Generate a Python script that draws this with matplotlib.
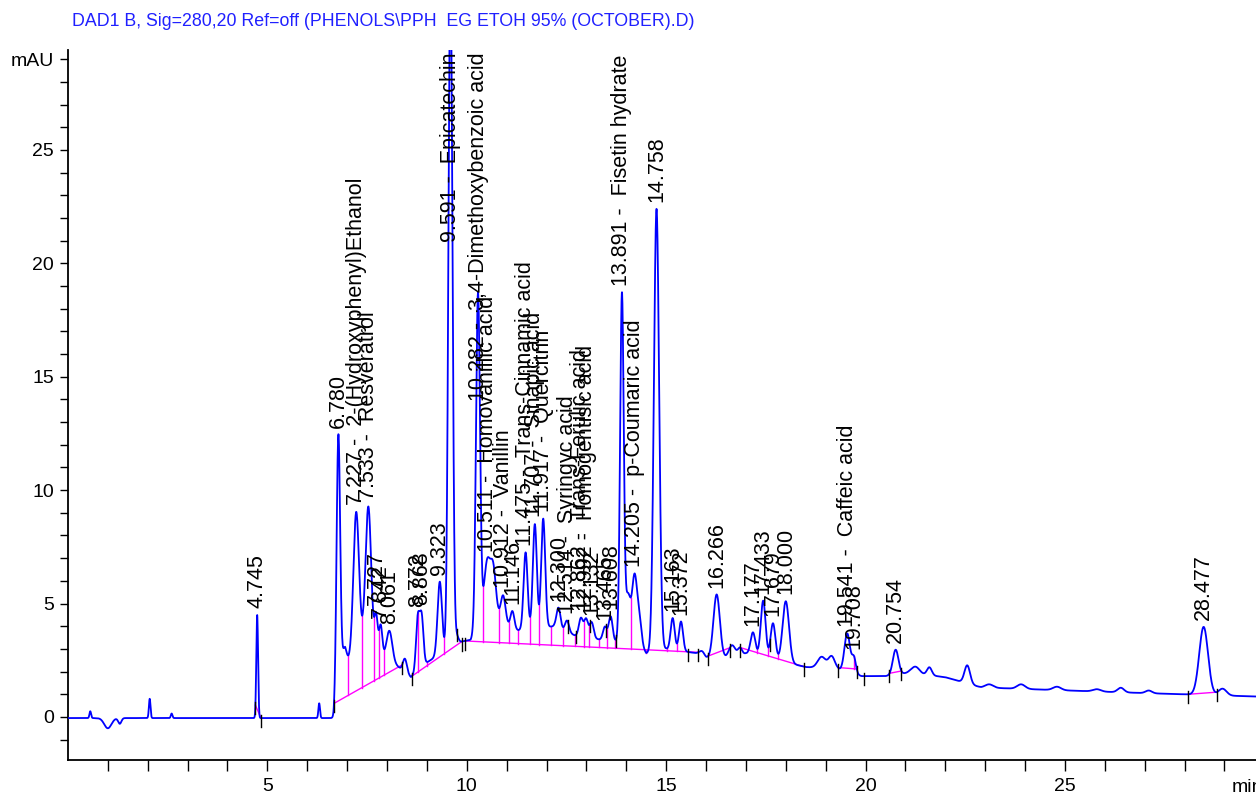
import numpy as np
import matplotlib
matplotlib.use('Agg')
import matplotlib.pyplot as plt

plt.rcParams['font.family'] = ['Liberation Sans', 'DejaVu Sans']

title = 'DAD1 B, Sig=280,20 Ref=off (PHENOLS\\PPH  EG ETOH 95% (OCTOBER).D)'

# underlying floor of the trace (min, mAU)
floor_x = [0.0, 6.66, 6.72, 6.95, 7.4, 7.7, 8.15, 8.6, 9.0, 9.8, 10.1, 10.45, 10.8, 11.2, 12.2, 12.7,
           13.7, 14.1, 14.5, 15.0, 15.8, 16.0, 16.5, 17.0, 18.5, 19.3, 19.9, 20.5, 21.1,
           22.0, 22.9, 24.5, 27.0, 29.8]
floor_y = [-0.05, -0.05, 0.3, 2.2, 3.4, 2.9, 2.4, 1.75, 2.4, 3.3, 3.4, 4.6, 4.3, 3.8, 4.0, 3.6,
           3.3, 3.6, 2.8, 3.0, 2.8, 2.6, 2.6, 2.8, 2.2, 2.1, 1.8, 1.8, 1.95,
           1.75, 1.3, 1.2, 1.05, 0.9]

# labelled peaks: retention time, height above floor, width (sigma)
peak_rt = [4.745, 6.780, 7.227, 7.533, 7.727, 7.842, 8.061, 8.772, 8.868, 9.323, 9.591,
           10.282, 10.511, 10.912, 11.146, 11.475, 11.707, 11.917, 12.300, 12.514,
           12.862, 12.992, 13.132, 13.465, 13.608, 13.891, 14.205, 14.758, 15.163,
           15.372, 16.266, 17.177, 17.433, 17.679, 18.000, 19.541, 19.708, 20.754, 28.477]
peak_h = [4.55, 11.6, 6.1, 6.1, 1.6, 1.3, 1.3, 2.3, 2.2, 3.2, 30.0,
          14.7, 2.2, 1.2, 0.8, 3.4, 4.6, 4.8, 0.9, 0.5,
          0.8, 0.8, 0.7, 0.6, 1.1, 15.2, 2.7, 19.5, 1.4,
          1.3, 2.8, 1.0, 2.5, 1.6, 2.7, 1.7, 0.7, 1.1, 3.0]
peak_w = [0.022, 0.045, 0.07, 0.07, 0.04, 0.04, 0.07, 0.045, 0.045, 0.055, 0.05,
          0.05, 0.07, 0.06, 0.05, 0.05, 0.05, 0.05, 0.05, 0.05,
          0.05, 0.05, 0.05, 0.05, 0.05, 0.045, 0.06, 0.065, 0.05,
          0.05, 0.08, 0.06, 0.06, 0.06, 0.08, 0.07, 0.05, 0.07, 0.11]
peak_name = ['', '', '2-(Hydroxyphenyl)Ethanol', 'Resveratrol', '', '', '', '', '', '', 'Epicatechin',
             '3,4-Dimethoxybenzoic acid', 'Homovanillic acid', 'Vanillin', '', 'Trans-Cinnamic acid',
             'Sinapic acid', 'Quercitrin', '', 'Syringyc acid',
             'Trans-Ferulic acid', 'Homogentisic acid', '', '', '', 'Fisetin hydrate', 'p-Coumaric acid', '', '',
             '', '', '', '', '', '', 'Caffeic acid', '', '', '']

# small unlabelled features
bump_rt = [0.56, 1.0, 1.3, 2.05, 2.6, 6.30, 6.92, 8.45, 9.75, 10.66, 14.04, 14.32, 15.9, 16.65,
           16.85, 18.9, 19.15, 21.25, 21.6, 22.55, 23.1, 23.9, 24.8, 25.8, 26.4, 27.1, 28.95]
bump_h = [0.3, -0.45, -0.25, 0.85, 0.2, 0.65, 1.0, 0.6, 0.3, 2.2, 1.8, 1.2, 0.2, 0.5,
          0.3, 0.5, 0.55, 0.3, 0.35, 0.8, 0.15, 0.2, 0.15, 0.1, 0.2, 0.12, 0.3]
bump_w = [0.02, 0.09, 0.04, 0.02, 0.02, 0.02, 0.06, 0.05, 0.04, 0.07, 0.06, 0.06, 0.06, 0.08,
          0.05, 0.1, 0.08, 0.1, 0.06, 0.07, 0.1, 0.1, 0.1, 0.1, 0.08, 0.08, 0.1]

# integration baselines (start, end)
seg_start = [4.70, 6.67, 8.62, 9.95, 16.05, 16.85, 19.31, 20.60, 28.08]
seg_end = [4.84, 8.38, 9.88, 15.80, 16.60, 18.45, 19.78, 20.90, 28.80]

# extra black tick marks on the trace
mark_x = [9.75, 12.55, 12.75, 13.1, 13.5, 13.75, 15.55, 17.6, 19.95]

t = np.linspace(0, 29.8, 8000)
sig = np.interp(t, floor_x, floor_y)
for rt, h, w in zip(peak_rt + bump_rt, peak_h + bump_h, peak_w + bump_w):
    sig += h * np.exp(-0.5 * ((t - rt) / w) ** 2)


def val(x):
    return np.interp(x, t, sig)


fig = plt.figure(figsize=(12.56, 7.95), dpi=100)
ax = fig.add_axes([0.0541, 0.044, 0.9459, 0.893])
ax.set_xlim(0, 29.79)
ax.set_ylim(-1.9, 29.4)

ax.plot(t, sig, color='#0000ff', lw=1.3, zorder=3)

# integration baselines and drop lines
for s, e in zip(seg_start, seg_end):
    ax.plot([s, e], [val(s), val(e)], color='#ff00ff', lw=1.0, zorder=2)
    inside = [rt for rt in peak_rt if s < rt < e]
    for a, b in zip(inside[:-1], inside[1:]):
        m = (t > a) & (t < b)
        xv = t[m][np.argmin(sig[m])]
        yb = val(s) + (val(e) - val(s)) * (xv - s) / (e - s)
        ax.plot([xv, xv], [yb, val(xv)], color='#ff00ff', lw=1.0, zorder=2)
    for x in (s, e):
        ax.plot([x, x], [val(x) + 0.15, val(x) - 0.4], color='black', lw=1.0, zorder=4)
for x in mark_x:
    ax.plot([x, x], [val(x) + 0.15, val(x) - 0.4], color='black', lw=1.0, zorder=4)

# peak labels
texts = []
for rt, name in zip(peak_rt, peak_name):
    lab = '%.3f' % rt
    if name:
        lab += ' -  ' + name
    y = min(val(rt), 29.0) + 0.3
    texts.append(ax.text(rt, y, lab, rotation=90, ha='center', va='bottom',
                         fontsize=15.5, color='black', zorder=5))

ax.spines['top'].set_visible(False)
ax.spines['right'].set_visible(False)
ax.spines['left'].set_linewidth(1.3)
ax.spines['bottom'].set_linewidth(1.3)

ax.set_xticks([5, 10, 15, 20, 25])
ax.set_xticks(np.arange(1, 30), minor=True)
ax.set_yticks([0, 5, 10, 15, 20, 25, 29])
ax.set_yticklabels(['0', '5', '10', '15', '20', '25', 'mAU'])
ax.set_yticks(np.arange(-1, 29), minor=True)
ax.tick_params(axis='x', which='both', direction='out', length=8, width=1, labelsize=14, pad=5)
ax.tick_params(axis='y', which='both', direction='out', length=6, width=1, labelsize=14, pad=4)
ax.text(29.18, -3.13, 'min', fontsize=14, ha='left', va='center', clip_on=False)

fig.text(72 / 1256, 1 - 22 / 795, title, color='#2020ff', fontsize=12.8, ha='left', va='center')

# keep the long labels inside the plot area
fig.canvas.draw()
top = ax.transData.transform((0, 29.3))[1]
for tx in texts:
    bb = tx.get_window_extent()
    if bb.y1 > top:
        x0, y0 = tx.get_position()
        dy = (bb.y1 - top) / (ax.transData.transform((0, 1))[1] - ax.transData.transform((0, 0))[1])
        tx.set_position((x0, y0 - dy))

fig.savefig('out.png', dpi=100)
